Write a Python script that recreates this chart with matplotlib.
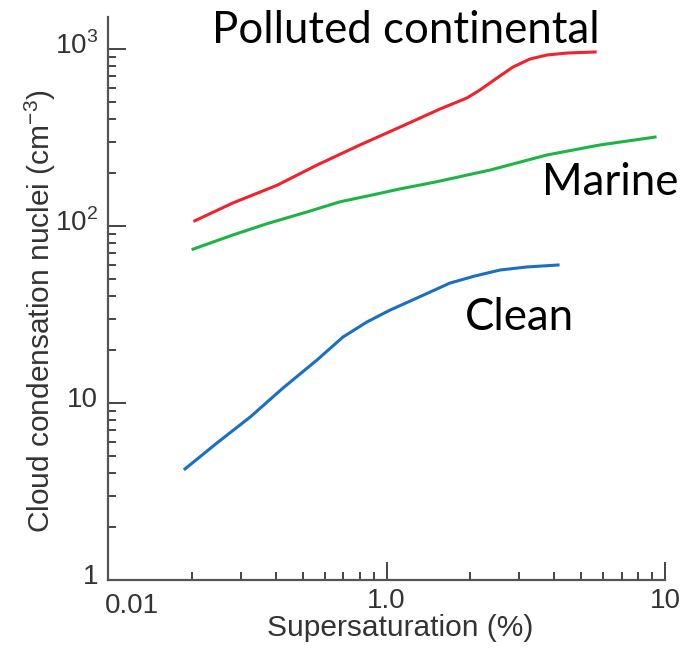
import matplotlib.pyplot as plt
from matplotlib.ticker import FixedLocator, FixedFormatter, LogLocator, NullFormatter
from matplotlib.transforms import ScaledTranslation

# supersaturation (%) and CCN (cm-3)
polluted_x = [0.205, 0.281, 0.405, 0.563, 0.803, 1.118, 1.556, 1.945,
              2.167, 2.494, 2.846, 3.276, 3.771, 4.448, 5.61]
polluted_y = [107, 135, 170, 221, 287, 362, 458, 529,
              587, 686, 791, 878, 925, 949, 962]

marine_x = [0.202, 0.281, 0.372, 0.518, 0.681, 0.894, 1.118, 1.493, 2.353, 3.771, 5.843, 9.21]
marine_y = [74, 89, 103, 120, 137, 150, 162, 177, 207, 252, 287, 318]

clean_x = [0.189, 0.246, 0.324, 0.425, 0.563, 0.698, 0.851, 1.03, 1.287, 1.69,
           2.079, 2.556, 3.196, 4.13]
clean_y = [4.24, 5.94, 8.33, 12.15, 17.5, 23.6, 28.7, 33.5, 39.2, 47.6,
           52.2, 56.4, 58.7, 60.2]

x_ticks = [0.1, 1, 10]
x_labels = ['0.01', '1.0', '10']
y_ticks = [1, 10, 100, 1000]
y_labels = ['1', '10', '10$^{2}$', '10$^{3}$']

plt.rcParams['font.family'] = ['Liberation Sans', 'DejaVu Sans']
plt.rcParams['mathtext.fontset'] = 'custom'
plt.rcParams['mathtext.rm'] = 'Liberation Sans'

fig = plt.figure(figsize=(6.97, 6.49), dpi=100)
ax = fig.add_axes([108 / 697, 1 - 580 / 649, (665 - 108) / 697, (580 - 17) / 649])

ax.plot(polluted_x, polluted_y, color='#f0222c', lw=2.2)
ax.plot(marine_x, marine_y, color='#1db446', lw=2.2)
ax.plot(clean_x, clean_y, color='#1a6fc4', lw=2.2)

ax.set_xscale('log')
ax.set_yscale('log')
ax.set_xlim(0.1, 10)
ax.set_ylim(1, 10 ** (563 / 177))

ax.spines['top'].set_visible(False)
ax.spines['right'].set_visible(False)
for s in ['left', 'bottom']:
    ax.spines[s].set_color('#555555')
    ax.spines[s].set_linewidth(1.6)

ax.xaxis.set_major_locator(FixedLocator(x_ticks))
ax.xaxis.set_major_formatter(FixedFormatter(x_labels))
ax.yaxis.set_major_locator(FixedLocator(y_ticks))
ax.yaxis.set_major_formatter(FixedFormatter(y_labels))
ax.xaxis.set_minor_locator(LogLocator(base=10, subs=range(2, 10)))
ax.yaxis.set_minor_locator(LogLocator(base=10, subs=range(2, 10)))
ax.xaxis.set_minor_formatter(NullFormatter())
ax.yaxis.set_minor_formatter(NullFormatter())

ax.tick_params(which='major', direction='in', length=13, width=1.4, color='#444444',
               labelsize=20, labelcolor='#333333')
ax.tick_params(which='minor', direction='in', length=6, width=1.4, color='#444444')
ax.tick_params(axis='x', which='major', pad=6)
ax.tick_params(axis='y', which='major', pad=7)

# label nudges as in the original figure
up = ScaledTranslation(0, 0.06, fig.dpi_scale_trans)
for t in ax.yaxis.get_major_ticks():
    t.label1.set_transform(t.label1.get_transform() + up)
first = ax.xaxis.get_major_ticks()[0].label1
first.set_horizontalalignment('left')
first.set_transform(first.get_transform() + ScaledTranslation(-0.03, -0.05, fig.dpi_scale_trans))

ax.set_xlabel('Supersaturation (%)', fontsize=21.5, color='#333333')
ax.xaxis.set_label_coords((400 - 108) / 557, -(614 - 580) / 563)
ax.set_ylabel('Cloud condensation nuclei (cm$^{-3}$)', fontsize=21.5, color='#333333')
ax.yaxis.set_label_coords((40 - 108) / 557, (580 - 311) / 563)
ax.yaxis.label.set_verticalalignment('center')

ann = dict(fontsize=31.5, color='black', family=['Lato', 'DejaVu Sans'], va='baseline')
fig.text(212 / 697, 1 - 43 / 649, 'Polluted continental', **ann)
fig.text(542 / 697, 1 - 195 / 649, 'Marine', **ann)
fig.text(465 / 697, 1 - 330 / 649, 'Clean', **ann)

fig.savefig('out.png', dpi=100)
